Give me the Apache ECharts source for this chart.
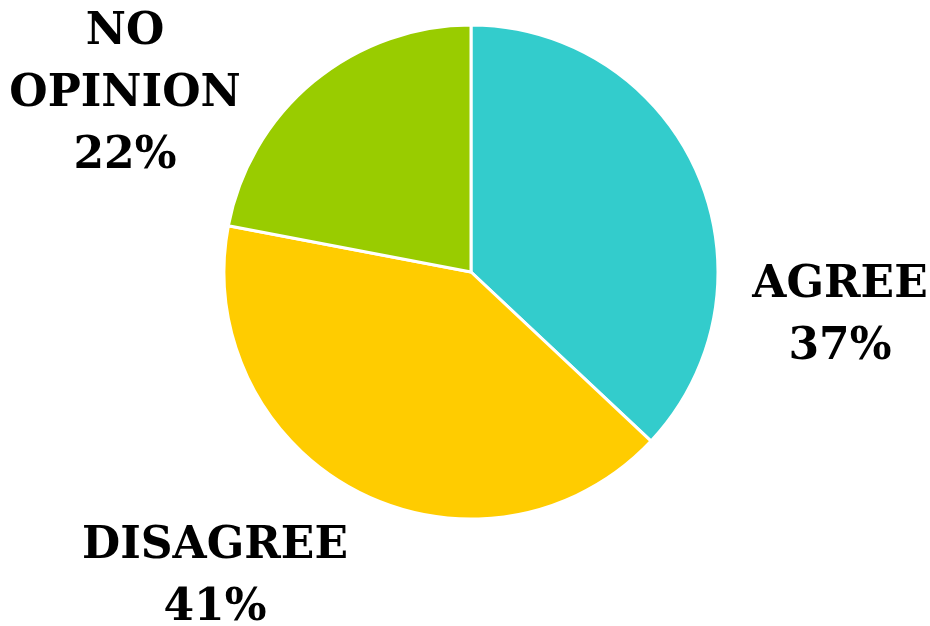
<!DOCTYPE html>
<html>
<head>
<meta charset="utf-8">
<script src="https://cdn.jsdelivr.net/npm/echarts@6/dist/echarts.min.js"></script>
<style>
    html, body { margin: 0; padding: 0; background: #fff; }
    #chart { width: 930px; height: 626px; }
</style>
</head>
<body>
<div id="chart"></div>
<script>
var categories = ['AGREE', 'DISAGREE', 'NO\nOPINION'];
var values = [37, 41, 22];
var colors = ['#33CCCC', '#FFCC00', '#99CC00'];

// where each label block sits (centre of the text block)
var labelSpots = [
    { x: 840, y: 317 },
    { x: 215, y: 578 },
    { x: 125, y: 95 }
];

var chart = echarts.init(document.getElementById('chart'));

var data = [];
for (var i = 0; i < categories.length; i++) {
    data.push({ name: categories[i], value: values[i], itemStyle: { color: colors[i] } });
}

chart.setOption({
    animation: false,
    series: [{
        type: 'pie',
        center: [471, 272],
        radius: 247,
        startAngle: 90,
        clockwise: true,
        data: data,
        itemStyle: { borderColor: '#fff', borderWidth: 3 },
        label: {
            show: true,
            position: 'outside',
            formatter: '{b}\n{c}%',
            fontFamily: 'DejaVu Serif',
            fontWeight: 'bold',
            fontSize: 44,
            lineHeight: 62,
            color: '#000',
            align: 'center',
            overflow: 'none'
        },
        labelLine: { show: false },
        labelLayout: function(params) {
            var s = labelSpots[params.dataIndex];
            return { x: s.x, y: s.y, align: 'center', verticalAlign: 'middle' };
        }
    }]
});
</script>
</body>
</html>
